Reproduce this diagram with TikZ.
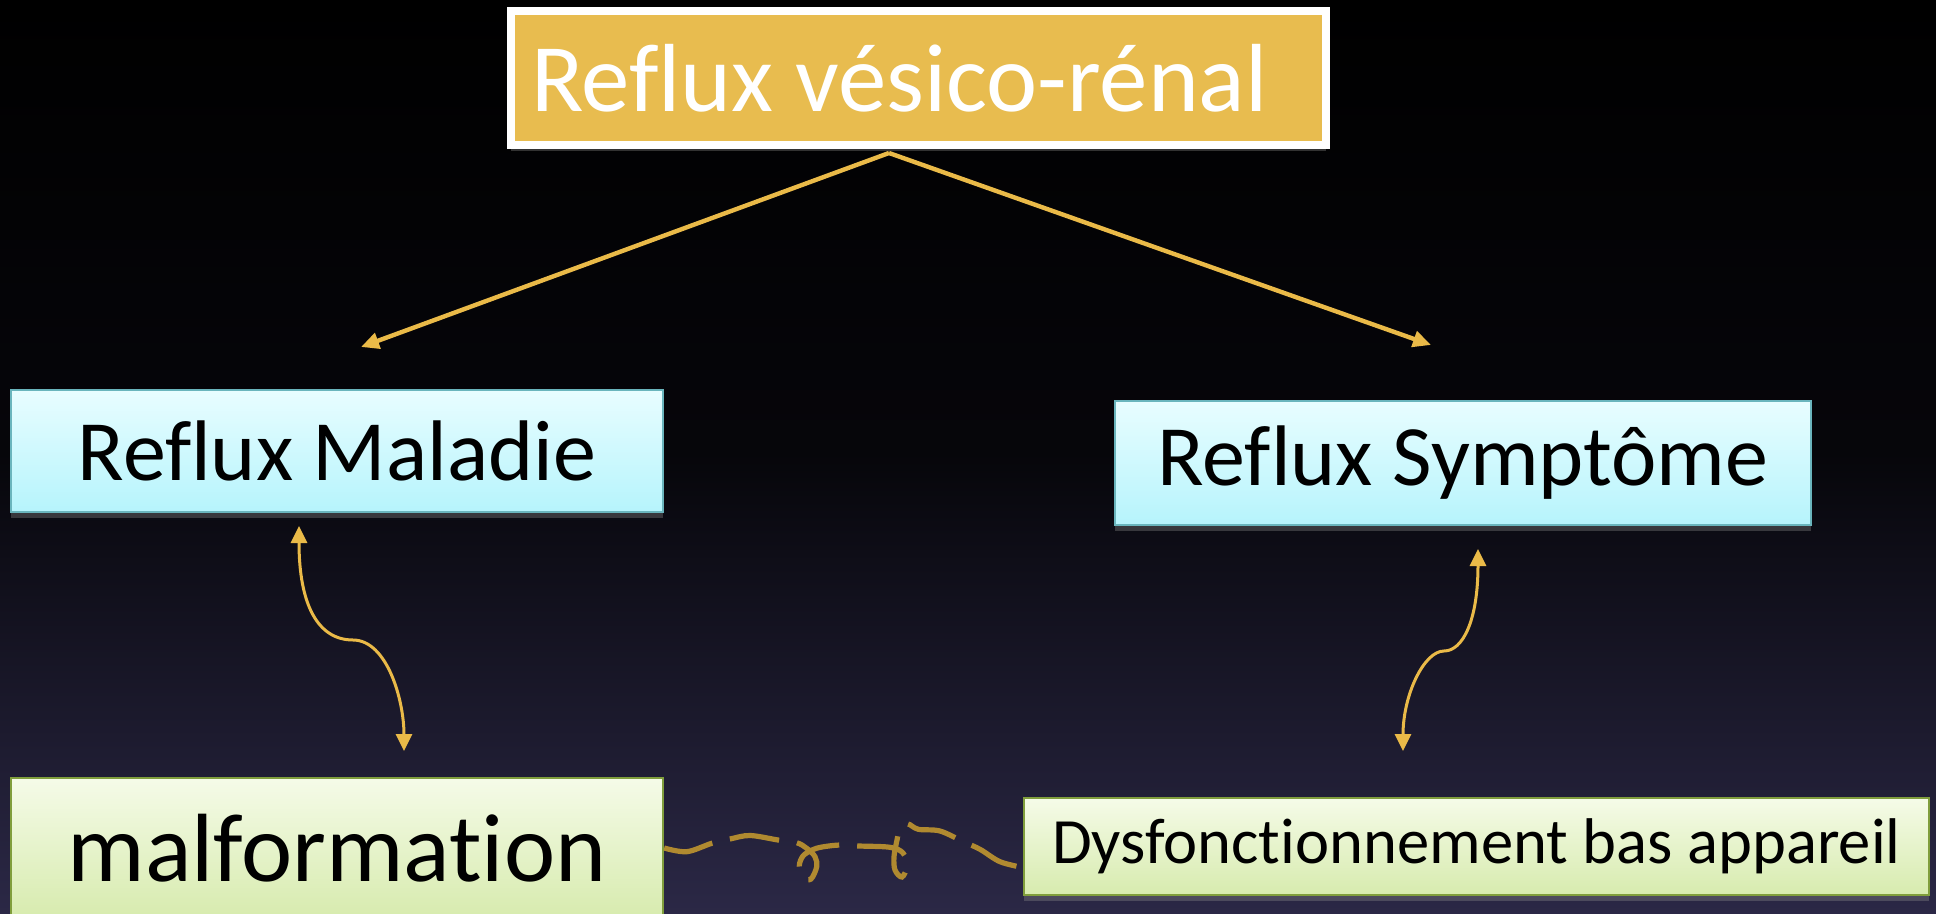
\documentclass[tikz,border=0pt]{standalone}
\usepackage{fontspec}
\setmainfont{Carlito}[Ligatures=NoCommon]
\usetikzlibrary{arrows.meta,shadows,calc}
\definecolor{bgbot}{RGB}{43,40,70}
\definecolor{goldfill}{RGB}{232,188,79}
\definecolor{goldline}{RGB}{234,186,72}
\definecolor{squig}{RGB}{176,138,48}
\definecolor{cyantop}{RGB}{232,253,255}
\definecolor{cyanbot}{RGB}{182,244,252}
\definecolor{cyanedge}{RGB}{106,181,189}
\definecolor{greentop}{RGB}{245,251,232}
\definecolor{greenbot}{RGB}{215,235,174}
\definecolor{greenedge}{RGB}{128,158,60}
\tikzset{
  boxshadow/.style={drop shadow={shadow xshift=0pt,shadow yshift=-3pt,opacity=.35,fill=white!55!black}},
  titlebox/.style={draw=white,line width=4pt,fill=goldfill,text=white,inner xsep=10pt,inner ysep=0pt,
    minimum height=67pt,boxshadow,font=\fontsize{48.4pt}{58pt}\selectfont},
  cyanbox/.style={draw=cyanedge,line width=1pt,top color=cyantop,bottom color=cyanbot,text=black,
    inner sep=0pt,boxshadow,font=\fontsize{43pt}{52pt}\selectfont},
  greenbox/.style={draw=greenedge,line width=1.2pt,top color=greentop,bottom color=greenbot,text=black,
    inner sep=0pt,boxshadow},
  toparrow/.style={draw=goldline,line width=2.2pt,-{Triangle[length=9pt,width=8pt]}},
  curlyarrow/.style={draw=goldline,line width=1.5pt,{Triangle[length=8.5pt,width=8pt]}-{Triangle[length=8.5pt,width=8pt]}},
  squigline/.style={draw=squig,line width=2.6pt,dash pattern=on 25pt off 9pt}
}
\begin{document}
\begin{tikzpicture}[x=0.5pt,y=-0.5pt]
\useasboundingbox (0,0) rectangle (1936,914);
\shade[top color=black,bottom color=bgbot,middle color=black!85!bgbot] (0,0) rectangle (1936,914);

\node[titlebox] (top) at (918.5,78) {\makebox[387.5pt][l]{Reflux vésico-rénal}};
\node[cyanbox,minimum width=326pt,minimum height=61pt] (mal) at (337,451) {Reflux Maladie};
\node[cyanbox,minimum width=348pt,minimum height=62pt] (sym) at (1463,463) {Reflux Symptôme};
\node[greenbox,minimum width=326pt,minimum height=70pt,font=\fontsize{48.5pt}{58pt}\selectfont] (malf) at (337,848) {malformation};
\node[greenbox,minimum width=452.5pt,minimum height=48.5pt,font=\fontsize{32.3pt}{40pt}\selectfont] (dys) at (1476.5,846.5) {Dysfonctionnement bas appareil};

\coordinate (topout) at ($(top.south)+(-29.5,4)$);
\coordinate (lt) at (361,347);
\coordinate (rt) at (1431,345);
\draw[toparrow] (topout) -- (lt);
\draw[toparrow] (topout) -- (rt);

\coordinate (c1a) at (299,526);
\coordinate (c1m) at (353,640);
\coordinate (c1b) at (404,751);
\draw[curlyarrow] (c1a) .. controls (299,605) and (318,640) .. (c1m) .. controls (387,640) and (404,700) .. (c1b);

\coordinate (c2a) at (1478,549);
\coordinate (c2m) at (1444,651);
\coordinate (c2b) at (1403,751);
\draw[curlyarrow] (c2a) .. controls (1478,620) and (1463,651) .. (c2m) .. controls (1424,651) and (1403,695) .. (c2b);

\coordinate (sqin) at ($(dys.west)+(0,21)$);
\draw[squigline] plot[smooth,tension=0.55] coordinates {
 (malf.east) (686.7,851.7) (711.7,843.3) (730,839) (750,835.5) (778,840) (796.7,842.7)
 (806.7,848.3) (815,856.7) (816.7,866.7) (811,879) (803,878) (799.3,866) (803,856) (812,850)
 (822,847) (840,845) (859,846) (890,847.3) (903,853) (907,866) (902,877) (895,870)
 (894,856.7) (897,840) (900,828) (908,824) (918.3,829.3) (940,831) (963.3,841.7)
 (980,849.3) (1000,861.7) (sqin)};
\end{tikzpicture}
\end{document}
